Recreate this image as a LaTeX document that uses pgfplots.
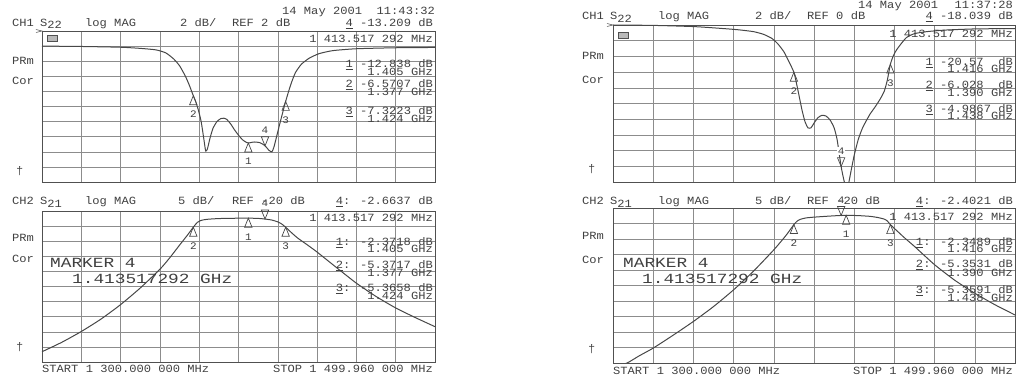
\documentclass[border=0pt]{standalone}
\usepackage{pgfplots}
\pgfplotsset{compat=1.18}
\usepackage{fontspec}
\newfontfamily\plt[FakeStretch=1.1]{Liberation Mono}
\newfontfamily\pltw[FakeStretch=1.27]{Liberation Mono}
\definecolor{ink}{HTML}{404040}
\definecolor{gridc}{HTML}{8C8C8C}
\definecolor{framec}{HTML}{505050}
\definecolor{tracec}{HTML}{474747}
\newcommand{\txt}{\plt\fontsize{11}{11}\selectfont}
\newcommand{\bigtxt}{\pltw\fontsize{14}{14}\selectfont}
\newcommand{\sub}[1]{\raisebox{-2.2pt}{#1}}

\pgfplotsset{
  vna/.style={
    scale only axis, anchor=south west,
    xmin=1300, xmax=1500,
    xtick={1300,1320,...,1500},
    xticklabels={}, yticklabels={},
    major tick length=0pt,
    grid=major,
    major grid style={line width=0.55pt, draw=gridc},
    axis line style={line width=0.8pt, draw=framec},
    clip mode=individual,
  },
  trace/.style={draw=tracec, line width=1pt, smooth, tension=0.35, mark=none},
  mk up/.style={only marks, mark=triangle, mark size=5pt,
    mark options={yshift=-6pt, xscale=0.85, yscale=1.2, fill=white, draw=tracec, line width=0.7pt},
    nodes near coords, point meta=explicit symbolic,
    every node near coord/.append style={anchor=north, yshift=-9pt,
      font=\plt\fontsize{10}{10}\selectfont, text=ink, inner sep=0pt}},
  mk down/.style={only marks, mark=triangle, mark size=5pt,
    mark options={yshift=6pt, rotate=180, xscale=0.85, yscale=1.2, fill=white, draw=tracec, line width=0.7pt},
    nodes near coords, point meta=explicit symbolic,
    every node near coord/.append style={anchor=south, yshift=5.5pt,
      font=\plt\fontsize{10}{10}\selectfont, text=ink, inner sep=0.4pt, fill=white}},
}
\tikzset{lbl/.style={font=\txt, text=ink, inner sep=0pt},
         blbl/.style={font=\bigtxt, text=ink, inner sep=0pt}}

\begin{document}
\begin{tikzpicture}
\useasboundingbox (0pt,0pt) rectangle (1018pt,383pt);

% ---------------- instrument A, CH1: S22 ----------------
\begin{axis}[vna, at={(42pt,201pt)}, width=393pt, height=151pt,
  ymin=-18, ymax=2, ytick={-18,-16,...,2}]
\addplot[trace] coordinates {
 (1300,0.0) (1320,-0.05) (1340,-0.15) (1350,-0.3) (1358,-0.5) (1363,-0.9)
 (1367,-1.7) (1370,-2.6) (1373,-4.0) (1375,-5.2) (1377,-6.57) (1378,-7.2)
 (1379.5,-8.4) (1381,-10.0) (1382.3,-12.2) (1383.3,-13.9) (1384.2,-13.6)
 (1385.5,-12.2) (1387,-10.9) (1389,-10.0) (1391,-9.6) (1392.5,-9.55)
 (1394,-9.7) (1396,-10.3) (1398,-11.1) (1400,-11.8) (1402,-12.4)
 (1404,-12.75) (1405,-12.84) (1408,-12.7) (1411,-12.8) (1413.5,-13.2)
 (1415.5,-13.8) (1417,-14.0) (1418,-13.4) (1419,-12.4) (1421,-10.3)
 (1423,-8.3) (1424,-7.32) (1425.5,-6.0) (1427,-4.8) (1429,-3.5) (1432,-2.4)
 (1436,-1.6) (1441,-1.0) (1448,-0.6) (1460,-0.35) (1480,-0.22) (1500,-0.18)
};
\addplot[mk up] coordinates {(1405,-12.838)[1] (1377,-6.5707)[2] (1424,-7.3223)[3]};
\addplot[mk down] coordinates {(1413.5,-13.209)[4]};
\end{axis}

% ---------------- instrument A, CH2: S21 ----------------
\begin{axis}[vna, at={(42pt,21pt)}, width=393pt, height=151pt,
  ymin=-50, ymax=0, ytick={-50,-45,...,0}]
\addplot[trace] coordinates {
 (1300,-46.6) (1310,-43.5) (1320,-39.9) (1330,-35.8) (1340,-31.0) (1350,-25.5)
 (1360,-19.3) (1365,-15.5) (1370,-11.3) (1374,-8.0) (1377,-5.37) (1379,-3.8)
 (1381,-3.1) (1384,-2.75) (1390,-2.5) (1398,-2.4) (1405,-2.37) (1410,-2.45)
 (1413.5,-2.66) (1417,-3.0) (1420,-3.6) (1422,-4.3) (1424,-5.37) (1427,-7.2)
 (1430,-8.9) (1435,-11.2) (1440,-13.6) (1450,-18.8) (1460,-23.9) (1470,-28.3)
 (1480,-32.1) (1490,-35.3) (1500,-38.3)
};
\addplot[mk up] coordinates {(1405,-2.3718)[1] (1377,-5.3717)[2] (1424,-5.3658)[3]};
\addplot[mk down] coordinates {(1413.5,-2.6637)[4]};
\end{axis}

% ---------------- instrument B, CH1: S22 ----------------
\begin{axis}[vna, at={(613pt,201pt)}, width=402pt, height=157pt,
  ymin=-20, ymax=0, ytick={-20,-18,...,0}]
\addplot[trace] coordinates {
 (1300,0.0) (1320,-0.05) (1340,-0.2) (1352,-0.4) (1362,-0.6) (1370,-0.85)
 (1375,-1.2) (1379,-1.7) (1382,-2.4) (1385,-3.4) (1387,-4.4) (1390,-6.03)
 (1392,-8.3) (1394,-10.8) (1395.5,-12.3) (1397,-13.1) (1398.5,-13.1)
 (1400,-12.5) (1402,-11.8) (1404,-11.5) (1406,-11.6) (1408,-12.1)
 (1410,-13.1) (1411.5,-14.6) (1413.5,-18.04) (1415,-19.9) (1416.2,-20.8)
 (1417.2,-20.2) (1418.5,-18.5) (1420,-16.6) (1422,-14.6) (1424,-13.2)
 (1426,-12.2) (1428,-11.3) (1430.5,-10.4) (1433,-9.4) (1435,-8.4)
 (1436.5,-7.0) (1438,-4.99) (1439.5,-3.9) (1441,-3.2) (1443,-2.5)
 (1446,-1.6) (1450,-1.1) (1456,-0.85) (1465,-0.65) (1480,-0.5) (1500,-0.45)
};
\addplot[mk up] coordinates {(1416,-20.57)[1] (1390,-6.028)[2] (1438,-4.9867)[3]};
\addplot[mk down] coordinates {(1413.5,-18.039)[4]};
\end{axis}

% ---------------- instrument B, CH2: S21 ----------------
\begin{axis}[vna, at={(613pt,20pt)}, width=402pt, height=155pt,
  ymin=-50, ymax=0, ytick={-50,-45,...,0}]
\addplot[trace] coordinates {
 (1300,-51.5) (1307,-50.0) (1313,-47.7) (1320,-45.2) (1330,-41.0) (1340,-36.6)
 (1350,-31.8) (1360,-26.4) (1370,-20.3) (1380,-13.5) (1386,-8.9) (1390,-5.35)
 (1391.5,-4.3) (1393,-3.7) (1396,-3.2) (1400,-2.95) (1408,-2.6) (1413.5,-2.40)
 (1416,-2.35) (1422,-2.45) (1428,-2.7) (1432,-3.1) (1435,-3.6) (1436.5,-4.2)
 (1438,-5.36) (1440,-6.6) (1442,-7.8) (1445,-9.6) (1450,-12.4) (1460,-18.3)
 (1470,-23.3) (1480,-27.5) (1490,-31.2) (1500,-34.5)
};
\addplot[mk up] coordinates {(1416,-2.3489)[1] (1390,-5.3531)[2] (1438,-5.3591)[3]};
\addplot[mk down] coordinates {(1413.5,-2.4021)[4]};
\end{axis}

% ---------------- annotation, instrument A ----------------
\node[lbl, anchor=base west] at (282pt,368pt) {14 May 2001};
\node[lbl, anchor=base east] at (435pt,368pt) {11:43:32};
\node[lbl, anchor=base west] at (12pt,356.5pt) {CH1};
\node[lbl, anchor=base west] at (40pt,356.5pt) {S\sub{22}};
\node[lbl, anchor=base west] at (85pt,356.5pt) {log MAG};
\node[lbl, anchor=base west] at (180pt,356.5pt) {2 dB/};
\node[lbl, anchor=base west] at (232pt,356.5pt) {REF 2 dB};
\node[lbl, anchor=base east] at (433pt,356.5pt) {\underline{4} -13.209 dB};
\node[lbl, anchor=base east] at (433pt,340pt) {1 413.517 292 MHz};
\node[lbl, anchor=base west] at (12pt,318pt) {PRm};
\node[lbl, anchor=base west] at (12pt,298pt) {Cor};
\node[lbl, anchor=base west] at (16pt,208pt) {†};
\node[lbl, anchor=base east] at (433pt,315.5pt) {\underline{1} -12.838 dB};
\node[lbl, anchor=base east] at (433pt,307.5pt) {1.405 GHz};
\node[lbl, anchor=base east] at (433pt,295.5pt) {\underline{2} -6.5707 dB};
\node[lbl, anchor=base east] at (433pt,287.5pt) {1.377 GHz};
\node[lbl, anchor=base east] at (433pt,268.5pt) {\underline{3} -7.3223 dB};
\node[lbl, anchor=base east] at (433pt,260.5pt) {1.424 GHz};
\node[fill=gray!55, draw=framec, line width=0.3pt, minimum width=10pt,
      minimum height=6pt, inner sep=0pt, anchor=north west] at (47pt,348pt) {};
\draw[framec, line width=0.5pt] (36pt,353.5pt) -- (42pt,352pt) -- (36pt,350.5pt);

\node[lbl, anchor=base west] at (12pt,178pt) {CH2};
\node[lbl, anchor=base west] at (40pt,178pt) {S\sub{21}};
\node[lbl, anchor=base west] at (85pt,178pt) {log MAG};
\node[lbl, anchor=base west] at (178pt,178pt) {5 dB/};
\node[lbl, anchor=base west] at (232pt,178pt) {REF -20 dB};
\node[lbl, anchor=base east] at (433pt,178pt) {\underline{4}: -2.6637 dB};
\node[lbl, anchor=base east] at (433pt,161pt) {1 413.517 292 MHz};
\node[lbl, anchor=base west] at (12pt,141pt) {PRm};
\node[lbl, anchor=base west] at (12pt,120pt) {Cor};
\node[lbl, anchor=base west] at (16pt,32pt) {†};
\node[lbl, anchor=base east] at (433pt,137.5pt) {\underline{1}: -2.3718 dB};
\node[lbl, anchor=base east] at (433pt,130pt) {1.405 GHz};
\node[lbl, anchor=base east] at (433pt,114pt) {\underline{2}: -5.3717 dB};
\node[lbl, anchor=base east] at (433pt,106pt) {1.377 GHz};
\node[lbl, anchor=base east] at (433pt,91.5pt) {\underline{3}: -5.3658 dB};
\node[lbl, anchor=base east] at (433pt,83.5pt) {1.424 GHz};
\node[blbl, anchor=base west] at (50pt,115.7pt) {MARKER 4};
\node[blbl, anchor=base west] at (72pt,99.7pt) {1.413517292 GHz};
\node[lbl, anchor=base west] at (42pt,10.3pt) {START 1 300.000 000 MHz};
\node[lbl, anchor=base east] at (433pt,10.3pt) {STOP 1 499.960 000 MHz};

% ---------------- annotation, instrument B ----------------
\node[lbl, anchor=base west] at (858pt,374.5pt) {14 May 2001};
\node[lbl, anchor=base east] at (1013pt,374.5pt) {11:37:28};
\node[lbl, anchor=base west] at (582pt,363pt) {CH1};
\node[lbl, anchor=base west] at (610pt,363pt) {S\sub{22}};
\node[lbl, anchor=base west] at (658pt,363pt) {log MAG};
\node[lbl, anchor=base west] at (755pt,363pt) {2 dB/};
\node[lbl, anchor=base west] at (807pt,363pt) {REF 0 dB};
\node[lbl, anchor=base east] at (1013pt,363pt) {\underline{4} -18.039 dB};
\node[lbl, anchor=base east] at (1013pt,345.7pt) {1 413.517 292 MHz};
\node[lbl, anchor=base west] at (582pt,323pt) {PRm};
\node[lbl, anchor=base west] at (582pt,299.7pt) {Cor};
\node[lbl, anchor=base west] at (588pt,210pt) {†};
\node[lbl, anchor=base east] at (1013pt,317.5pt) {\underline{1} -20.57\ \ dB};
\node[lbl, anchor=base east] at (1013pt,310pt) {1.416 GHz};
\node[lbl, anchor=base east] at (1013pt,294pt) {\underline{2} -6.028\ \ dB};
\node[lbl, anchor=base east] at (1013pt,286pt) {1.390 GHz};
\node[lbl, anchor=base east] at (1013pt,270pt) {\underline{3} -4.9867 dB};
\node[lbl, anchor=base east] at (1013pt,263pt) {1.438 GHz};
\node[fill=gray!55, draw=framec, line width=0.3pt, minimum width=10pt,
      minimum height=6pt, inner sep=0pt, anchor=north west] at (618pt,351pt) {};
\draw[framec, line width=0.5pt] (607pt,359.5pt) -- (613pt,358pt) -- (607pt,356.5pt);

\node[lbl, anchor=base west] at (582pt,178pt) {CH2};
\node[lbl, anchor=base west] at (610pt,178pt) {S\sub{21}};
\node[lbl, anchor=base west] at (658pt,178pt) {log MAG};
\node[lbl, anchor=base west] at (755pt,178pt) {5 dB/};
\node[lbl, anchor=base west] at (807pt,178pt) {REF -20 dB};
\node[lbl, anchor=base east] at (1013pt,178pt) {\underline{4}: -2.4021 dB};
\node[lbl, anchor=base east] at (1013pt,162.3pt) {1 413.517 292 MHz};
\node[lbl, anchor=base west] at (582pt,143pt) {PRm};
\node[lbl, anchor=base west] at (582pt,119pt) {Cor};
\node[lbl, anchor=base west] at (588pt,30pt) {†};
\node[lbl, anchor=base east] at (1013pt,137.5pt) {\underline{1}: -2.3489 dB};
\node[lbl, anchor=base east] at (1013pt,130pt) {1.416 GHz};
\node[lbl, anchor=base east] at (1013pt,115pt) {\underline{2}: -5.3531 dB};
\node[lbl, anchor=base east] at (1013pt,106pt) {1.390 GHz};
\node[lbl, anchor=base east] at (1013pt,89pt) {\underline{3}: -5.3591 dB};
\node[lbl, anchor=base east] at (1013pt,81.5pt) {1.438 GHz};
\node[blbl, anchor=base west] at (623pt,115.3pt) {MARKER 4};
\node[blbl, anchor=base west] at (642pt,99.7pt) {1.413517292 GHz};
\node[lbl, anchor=base west] at (613pt,8pt) {START 1 300.000 000 MHz};
\node[lbl, anchor=base east] at (1013pt,8pt) {STOP 1 499.960 000 MHz};
\end{tikzpicture}
\end{document}
